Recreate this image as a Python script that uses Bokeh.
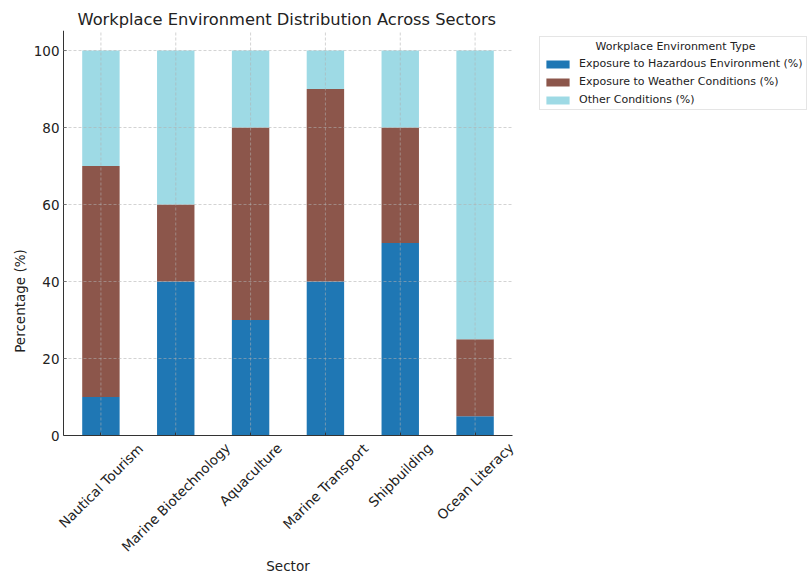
from bokeh.plotting import figure
from bokeh.models import Range1d, Legend, LegendItem, ColumnDataSource
from bokeh.embed import file_html
from bokeh.resources import INLINE
from bokeh.core.properties import value
import math

# ---------------- data ----------------
sectors = ["Nautical Tourism", "Marine Biotechnology", "Aquaculture",
           "Marine Transport", "Shipbuilding", "Ocean Literacy"]
hazardous = [10, 40, 30, 40, 50, 5]
weather = [60, 20, 50, 50, 30, 20]
other = [30, 40, 20, 10, 20, 75]
series_names = ["Exposure to Hazardous Environment (%)",
                "Exposure to Weather Conditions (%)",
                "Other Conditions (%)"]
legend_title = "Workplace Environment Type"
chart_title = "Workplace Environment Distribution Across Sectors"
x_title = "Sector"
y_title = "Percentage (%)"
yticks = [0, 20, 40, 60, 80, 100]

# ---------------- style / layout ----------------
colors = ["#1f77b4", "#8c564b", "#9edae5"]
FONT = "DejaVu Sans"
TXT = "#222222"
AX = "#333333"
GRID = "#b0b0b0"
W, H = 808, 574
FRAME_LEFT = 50          # left edge of the drawing frame (room for rotated labels)
AXES_LEFT = 63           # pixel column of the y axis line
AXES_RIGHT = 512         # right edge of the bar axes
FRAME_TOP, FRAME_BOTTOM = 30, 571
ZERO_PX = 435            # pixel row of y = 0
YMAX = 105.2
units_per_px = YMAX / (ZERO_PX - FRAME_TOP)
YMIN = -(FRAME_BOTTOM - ZERO_PX) * units_per_px
n = len(sectors)
xi = list(range(n))
AX_XMIN, AX_XMAX = -0.5, n - 0.5
px_per_unit = (AXES_RIGHT - AXES_LEFT) / n
XMIN = AX_XMIN - (AXES_LEFT - FRAME_LEFT) / px_per_unit
XMAX = XMIN + (W - FRAME_LEFT) / px_per_unit
TICK_FS = 13.5
TITLE_FS = 16.3

# approximate DejaVu Sans advance widths (em/2048) to place rotated labels / title
_adv = {" ": 651, "a": 1255, "b": 1300, "c": 1126, "d": 1300, "e": 1260, "f": 721,
        "g": 1300, "h": 1298, "i": 569, "j": 569, "k": 1186, "l": 569, "m": 1995,
        "n": 1298, "o": 1253, "p": 1300, "q": 1300, "r": 842, "s": 1067, "t": 803,
        "u": 1298, "v": 1212, "w": 1675, "x": 1212, "y": 1212, "z": 1075,
        "A": 1401, "B": 1405, "C": 1430, "D": 1577, "E": 1294, "H": 1540,
        "L": 1141, "M": 1767, "N": 1532, "O": 1612, "P": 1235, "S": 1300,
        "T": 1251, "W": 2025, "(": 800, ")": 800, "%": 1946}


def text_width(s, fs):
    return sum(_adv.get(ch, 1250) for ch in s) / 2048.0 * fs


label_offsets = [5.5 + (text_width(s, TICK_FS) + 0.9 * TICK_FS) / (2 * math.sqrt(2))
                 for s in sectors]

p = figure(width=W, height=H, x_range=Range1d(XMIN, XMAX),
           y_range=Range1d(YMIN, YMAX), output_backend="svg",
           toolbar_location=None, min_border_left=FRAME_LEFT,
           min_border_right=0, min_border_top=FRAME_TOP,
           min_border_bottom=H - FRAME_BOTTOM)
p.outline_line_color = None
p.xgrid.visible = False
p.ygrid.visible = False

src = ColumnDataSource(dict(x=xi, h=hazardous, w=weather, o=other))
rs = p.vbar_stack(["h", "w", "o"], x="x", width=0.5, color=colors,
                  source=src, line_color=None)

# title, centred over the bar axes
p.title.text = chart_title
p.title.text_font = FONT
p.title.text_font_size = "%gpx" % TITLE_FS
p.title.text_font_style = "normal"
p.title.text_color = TXT
p.title.align = "left"
p.title.offset = (AXES_LEFT - FRAME_LEFT) + (AXES_RIGHT - AXES_LEFT) / 2 \
    - text_width(chart_title, TITLE_FS) / 2
p.title.standoff = 4

# ---- y axis: Bokeh axis supplies labels; its spine sits at x = -0.5 ----
p.yaxis.ticker = yticks
p.yaxis.axis_line_color = None
p.yaxis.major_tick_line_color = None
p.yaxis.minor_tick_line_color = None
p.yaxis.major_tick_out = 0
p.yaxis.major_tick_in = 0
p.yaxis.major_label_text_font = FONT
p.yaxis.major_label_text_color = TXT
p.yaxis.major_label_text_font_size = "13.5px"
p.yaxis.major_label_standoff = 4 - (AXES_LEFT - FRAME_LEFT)
p.yaxis.axis_label = y_title
p.yaxis.axis_label_text_font = FONT
p.yaxis.axis_label_text_font_size = "13.5px"
p.yaxis.axis_label_text_font_style = "normal"
p.yaxis.axis_label_text_color = TXT
p.yaxis.axis_label_standoff = 3
p.segment(x0=[AX_XMIN], x1=[AX_XMIN], y0=[0], y1=[YMAX], line_color=AX, line_width=1)
p.ray(x=[AX_XMIN] * len(yticks), y=yticks, length=3, length_units="screen",
      angle=0, line_color=AX, line_width=1)

# ---- x axis at y = 0, ticks pointing inwards ----
p.xaxis.fixed_location = 0
p.xaxis.bounds = (AX_XMIN, AX_XMAX)
p.xaxis.ticker = xi
p.xaxis.axis_line_color = AX
p.xaxis.major_tick_line_color = AX
p.xaxis.major_tick_out = 0
p.xaxis.major_tick_in = 3
p.xaxis.minor_tick_line_color = None
p.xaxis.major_label_overrides = {i: "" for i in xi}
p.xaxis.major_label_text_font_size = "0px"
p.xaxis.major_label_standoff = 0

# dashed grid, drawn over the bars as in the reference
p.segment(x0=xi, x1=xi, y0=[0] * n, y1=[YMAX] * n,
          line_color=GRID, line_alpha=0.7, line_dash="3 2", line_width=0.8)
p.segment(x0=[AX_XMIN] * len(yticks), x1=[AX_XMAX] * len(yticks), y0=yticks, y1=yticks,
          line_color=GRID, line_alpha=0.7, line_dash="3 2", line_width=0.8)

# rotated, centred category labels
lab = ColumnDataSource(dict(x=xi, y=[0] * n, text=sectors, off=label_offsets))
p.text(x="x", y="y", text="text", source=lab, angle=math.pi / 4,
       y_offset="off", text_align="center", text_baseline="middle",
       text_font=value(FONT), text_font_size="%gpx" % TICK_FS, text_color=TXT)

# x axis title
p.text(x=[(n - 1) / 2.0], y=[0], text=[x_title], y_offset=130,
       text_align="center", text_baseline="middle",
       text_font=value(FONT), text_font_size="13.5px", text_color=TXT)

# legend (placed to the right of the bars)
legend = Legend(items=[LegendItem(label=s, renderers=[r]) for s, r in zip(series_names, rs)],
                location=(539 - FRAME_LEFT, 461), orientation="vertical")
legend.title = "\u00a0" * 15 + legend_title
legend.title_text_font = FONT
legend.title_text_font_size = "11px"
legend.title_text_font_style = "normal"
legend.title_text_color = TXT
legend.title_standoff = 4
legend.label_text_font = FONT
legend.label_text_font_size = "11px"
legend.label_text_color = TXT
legend.label_standoff = 7
legend.glyph_width = 29
legend.glyph_height = 10
legend.label_height = 13
legend.spacing = 5
legend.padding = 3
legend.margin = 0
legend.border_line_color = "#cccccc"
legend.border_line_width = 1
legend.background_fill_alpha = 1
p.add_layout(legend, "center")

out = open("out.html", "w")
out.write(file_html(p, INLINE))
out.close()
